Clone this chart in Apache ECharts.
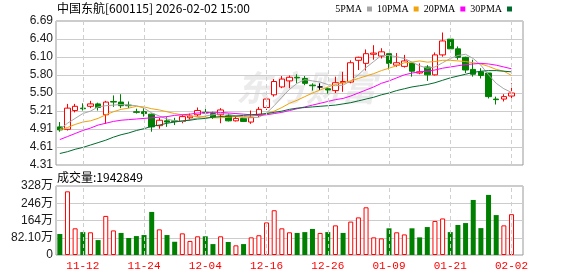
<!DOCTYPE html>
<html><head><meta charset="utf-8">
<script src="https://cdn.jsdelivr.net/npm/echarts@6/dist/echarts.min.js"></script>
<style>html,body{margin:0;padding:0;background:#fff}#c{width:578px;height:276px}</style>
</head><body><div id="c"></div>
<script>
const dates = ['11-07','11-10','11-11','11-12','11-13','11-14','11-17','11-18','11-19','11-20',
'11-21','11-24','11-25','11-26','11-27','11-28','12-01','12-02','12-03','12-04',
'12-05','12-08','12-09','12-10','12-11','12-12','12-15','12-16','12-17','12-18',
'12-19','12-22','12-23','12-24','12-25','12-26','12-29','12-30','12-31','01-05',
'01-06','01-07','01-08','01-09','01-12','01-13','01-14','01-15','01-16','01-19',
'01-20','01-21','01-22','01-23','01-26','01-27','01-28','01-29','01-30','02-02'];
// [open, close, low, high]
const ohlc = [
[4.94,4.89,4.86,5.02],[4.90,5.25,4.88,5.32],[5.21,5.28,5.18,5.32],[5.25,5.24,5.21,5.33],[5.28,5.32,5.25,5.37],
[5.32,5.26,5.21,5.34],[5.14,5.35,4.99,5.37],[5.36,5.35,5.27,5.46],[5.35,5.29,5.25,5.48],[5.30,5.29,5.25,5.36],
[5.19,5.18,5.16,5.24],[5.19,5.16,5.11,5.25],[5.15,4.94,4.86,5.16],[4.96,5.05,4.91,5.09],[5.04,5.02,4.94,5.10],
[5.04,5.03,4.97,5.09],[5.03,5.11,5.00,5.14],[5.09,5.12,5.05,5.16],[5.14,5.21,5.11,5.26],[5.18,5.17,5.11,5.25],
[5.16,5.10,5.07,5.19],[5.14,5.22,5.00,5.25],[5.12,5.04,5.03,5.16],[5.04,5.08,5.03,5.11],[5.08,5.03,5.02,5.09],
[5.02,5.10,4.99,5.21],[5.14,5.23,5.10,5.27],[5.26,5.40,5.22,5.42],[5.47,5.69,5.44,5.73],[5.60,5.73,5.58,5.78],
[5.70,5.76,5.58,5.79],[5.76,5.75,5.66,5.81],[5.74,5.66,5.63,5.78],[5.63,5.62,5.54,5.66],[5.60,5.60,5.55,5.66],
[5.57,5.55,5.49,5.59],[5.54,5.67,5.50,5.77],[5.67,5.69,5.52,5.85],[5.68,6.00,5.66,6.04],[6.04,6.09,5.88,6.10],
[5.99,6.15,5.87,6.22],[6.14,6.16,6.05,6.29],[6.11,6.18,6.07,6.24],[6.15,5.99,5.89,6.15],[5.96,6.00,5.93,6.16],
[5.94,6.03,5.92,6.13],[5.99,5.86,5.77,6.00],[5.83,5.85,5.81,5.99],[5.93,5.80,5.70,5.96],[5.80,6.13,5.79,6.17],
[6.13,6.36,6.10,6.50],[6.39,6.23,6.20,6.40],[6.23,6.09,6.05,6.27],[6.09,5.88,5.83,6.10],[5.89,5.81,5.77,6.05],
[5.85,5.79,5.74,5.91],[5.83,5.44,5.41,5.83],[5.40,5.39,5.31,5.44],[5.40,5.44,5.36,5.48],[5.45,5.50,5.41,5.66]];
const ma5 = [4.90,5.00,5.08,5.16,5.20,5.27,5.29,5.30,5.31,5.30,5.29,5.25,5.17,5.12,5.07,5.04,5.03,5.06,5.09,5.12,
5.14,5.16,5.15,5.12,5.09,5.09,5.10,5.17,5.29,5.43,5.56,5.66,5.72,5.70,5.68,5.64,5.62,5.63,5.70,5.80,
5.92,6.02,6.12,6.12,6.10,6.07,6.01,5.95,5.91,5.93,6.00,6.07,6.12,6.14,6.07,5.96,5.80,5.66,5.57,5.51];
const ma10 = [4.89,4.93,4.98,5.02,5.04,5.08,5.14,5.19,5.23,5.25,5.28,5.27,5.24,5.22,5.19,5.16,5.14,5.12,5.11,5.10,
5.09,5.09,5.10,5.11,5.11,5.12,5.13,5.16,5.20,5.26,5.33,5.38,5.44,5.50,5.55,5.60,5.64,5.67,5.70,5.74,
5.78,5.82,5.87,5.91,5.95,6.00,6.01,6.03,6.01,6.02,6.04,6.04,6.03,6.02,6.00,5.98,5.94,5.89,5.86,5.79];
const ma20 = [4.73,4.78,4.83,4.88,4.92,4.97,5.00,5.03,5.05,5.06,5.07,5.08,5.09,5.10,5.11,5.13,5.14,5.15,5.17,5.17,
5.18,5.18,5.17,5.16,5.15,5.14,5.13,5.14,5.16,5.18,5.21,5.24,5.27,5.30,5.33,5.36,5.39,5.41,5.45,5.50,
5.55,5.60,5.66,5.70,5.75,5.80,5.83,5.85,5.86,5.88,5.91,5.93,5.95,5.97,5.98,5.99,5.98,5.96,5.93,5.90];
const ma30 = [4.50,4.53,4.57,4.60,4.64,4.68,4.72,4.77,4.81,4.84,4.88,4.91,4.95,4.97,5.00,5.02,5.04,5.05,5.07,5.08,
5.10,5.11,5.12,5.12,5.13,5.14,5.15,5.16,5.18,5.20,5.23,5.25,5.26,5.27,5.28,5.29,5.30,5.32,5.34,5.37,
5.40,5.43,5.47,5.50,5.54,5.57,5.60,5.62,5.64,5.67,5.71,5.75,5.78,5.81,5.84,5.86,5.87,5.87,5.86,5.85];
// volume in 万 (10k)
const volumes = [100,303,127,109,108,71,186,117,105,81,
90,95,205,122,95,63,103,67,89,89,
52,89,62,46,52,84,94,155,213,127,
108,105,109,124,105,109,141,105,159,179,
227,84,79,127,108,98,127,84,133,162,
174,109,143,152,262,128,286,190,141,194.28];
// 1 = red (up), -1 = green (down), as drawn in the volume panel
const volDir = [-1,1,1,-1,1,-1,1,1,-1,-1,
-1,-1,-1,1,-1,-1,1,1,1,-1,
-1,1,-1,1,-1,1,1,1,1,1,
1,-1,-1,-1,1,-1,1,-1,1,1,
1,1,1,-1,1,1,-1,-1,-1,1,
1,-1,-1,-1,-1,-1,-1,-1,1,1];
const priceTicks = ['4.31','4.61','4.91','5.21','5.50','5.80','6.10','6.40','6.69'];
const priceMin = 4.31, priceMax = 6.69;
const volTicks = ['0','82.10万','164万','246万','328万'];
const volMax = 328.4;
const labelDates = ['11-12','11-24','12-04','12-16','12-26','01-09','01-21','02-02'];
const maNames = ['5PMA','10PMA','20PMA','30PMA'];
const maColors = ['#a6a6a6','#f0a30a','#ff00ff','#006b2e'];
const title = '中国东航[600115] 2026-02-02 15:00';
const volTitle = '成交量:1942849';

const cats = dates.concat(['']);
const RED = '#ff0000', GREEN = '#008000';
const chart = echarts.init(document.getElementById('c'), null, {renderer:'canvas'});
const lblFont = 'Liberation Sans, Noto Sans CJK SC, sans-serif';
const vLines = labelDates.map(d => ({xAxis: d}));
const markLineCfg = {symbol:'none', silent:true, animation:false, label:{show:false},
  lineStyle:{type:[4,3], color:'#cfcfcf', width:1}, data: vLines};

const option = {
  animation:false,
  backgroundColor:'#fff',
  title:[
    {text:title, left:57, top:2, padding:0, textStyle:{fontSize:12, fontWeight:'normal', color:'#000', fontFamily:'Noto Sans CJK SC'}},
    {text:volTitle, left:57, top:171, padding:0, textStyle:{fontSize:12, fontWeight:'normal', color:'#000', fontFamily:'Noto Sans CJK SC'}}
  ],
  legend:{data:maNames, right:66, top:4, align:'right', icon:'rect', itemWidth:5, itemHeight:5, itemGap:5,
    padding:0, selectedMode:false,
    textStyle:{fontSize:10, color:'#000', fontFamily:'Liberation Serif'}},
  graphic:[{type:'text', left:236, top:70, z:0, silent:true,
    style:{text:'东方财富', fontSize:35, fontWeight:'bold', fontStyle:'italic', fill:'#ebebeb', fontFamily:'Noto Sans CJK SC'}}],
  grid:[
    {left:56, top:21, width:467, height:144, show:true, borderColor:'#999', borderWidth:1, backgroundColor:'transparent'},
    {left:56, top:186, width:467, height:69, show:true, borderColor:'#999', borderWidth:1, backgroundColor:'transparent'}
  ],
  xAxis:[
    {type:'category', gridIndex:0, data:cats, boundaryGap:true, axisLine:{show:false}, axisTick:{show:false}, axisLabel:{show:false}, splitLine:{show:false}},
    {type:'category', gridIndex:1, data:cats, boundaryGap:true, axisLine:{show:false}, axisTick:{show:false}, splitLine:{show:false},
      axisLabel:{interval:(i,v)=>labelDates.indexOf(v)>=0, color:RED, fontSize:11, fontFamily:'Liberation Mono', margin:6}}
  ],
  yAxis:[
    {type:'value', gridIndex:0, min:priceMin, max:priceMax, show:false},
    {type:'value', gridIndex:0, min:0, max:priceTicks.length-1, interval:1, position:'left',
      axisLine:{show:false}, axisTick:{show:false},
      axisLabel:{formatter:v=>priceTicks[Math.round(v)], color:'#1a1a1a', fontSize:12, fontFamily:lblFont, margin:3},
      splitLine:{lineStyle:{color:'#cccccc', width:1}}},
    {type:'value', gridIndex:1, min:0, max:volMax, interval:volMax/4, position:'left',
      axisLine:{show:false}, axisTick:{show:false},
      axisLabel:{formatter:v=>volTicks[Math.round(v/(volMax/4))], color:'#1a1a1a', fontSize:12, fontFamily:lblFont, margin:3},
      splitLine:{lineStyle:{color:'#cccccc', width:1}}}
  ],
  series:[
    {type:'line', name:'grid-v', xAxisIndex:0, yAxisIndex:0, data:[], z:1, markLine:markLineCfg},
    {type:'candlestick', name:'K', xAxisIndex:0, yAxisIndex:0, data:ohlc, barWidth:6, z:3,
      itemStyle:{color:'#ffffff', color0:GREEN, borderColor:RED, borderColor0:GREEN, borderColorDoji:'#000000', borderWidth:1}},
  ].concat([ma5, ma10, ma20, ma30].map((d,k)=>({
      type:'line', name:maNames[k], xAxisIndex:0, yAxisIndex:0, data:d, symbol:'none', smooth:false, z:4,
      lineStyle:{color:maColors[k], width:1}, itemStyle:{color:maColors[k]}
  }))).concat([
    {type:'line', name:'grid-v2', xAxisIndex:1, yAxisIndex:2, data:[], z:1, markLine:markLineCfg},
    {type:'bar', name:'VOL', xAxisIndex:1, yAxisIndex:2, barWidth:5, z:3,
      data: volumes.map((v,i)=>({value:v, itemStyle: volDir[i]>0 ? {color:'#ffffff', borderColor:RED, borderWidth:1} : {color:GREEN}}))}
  ])
};
chart.setOption(option);
</script></body></html>
